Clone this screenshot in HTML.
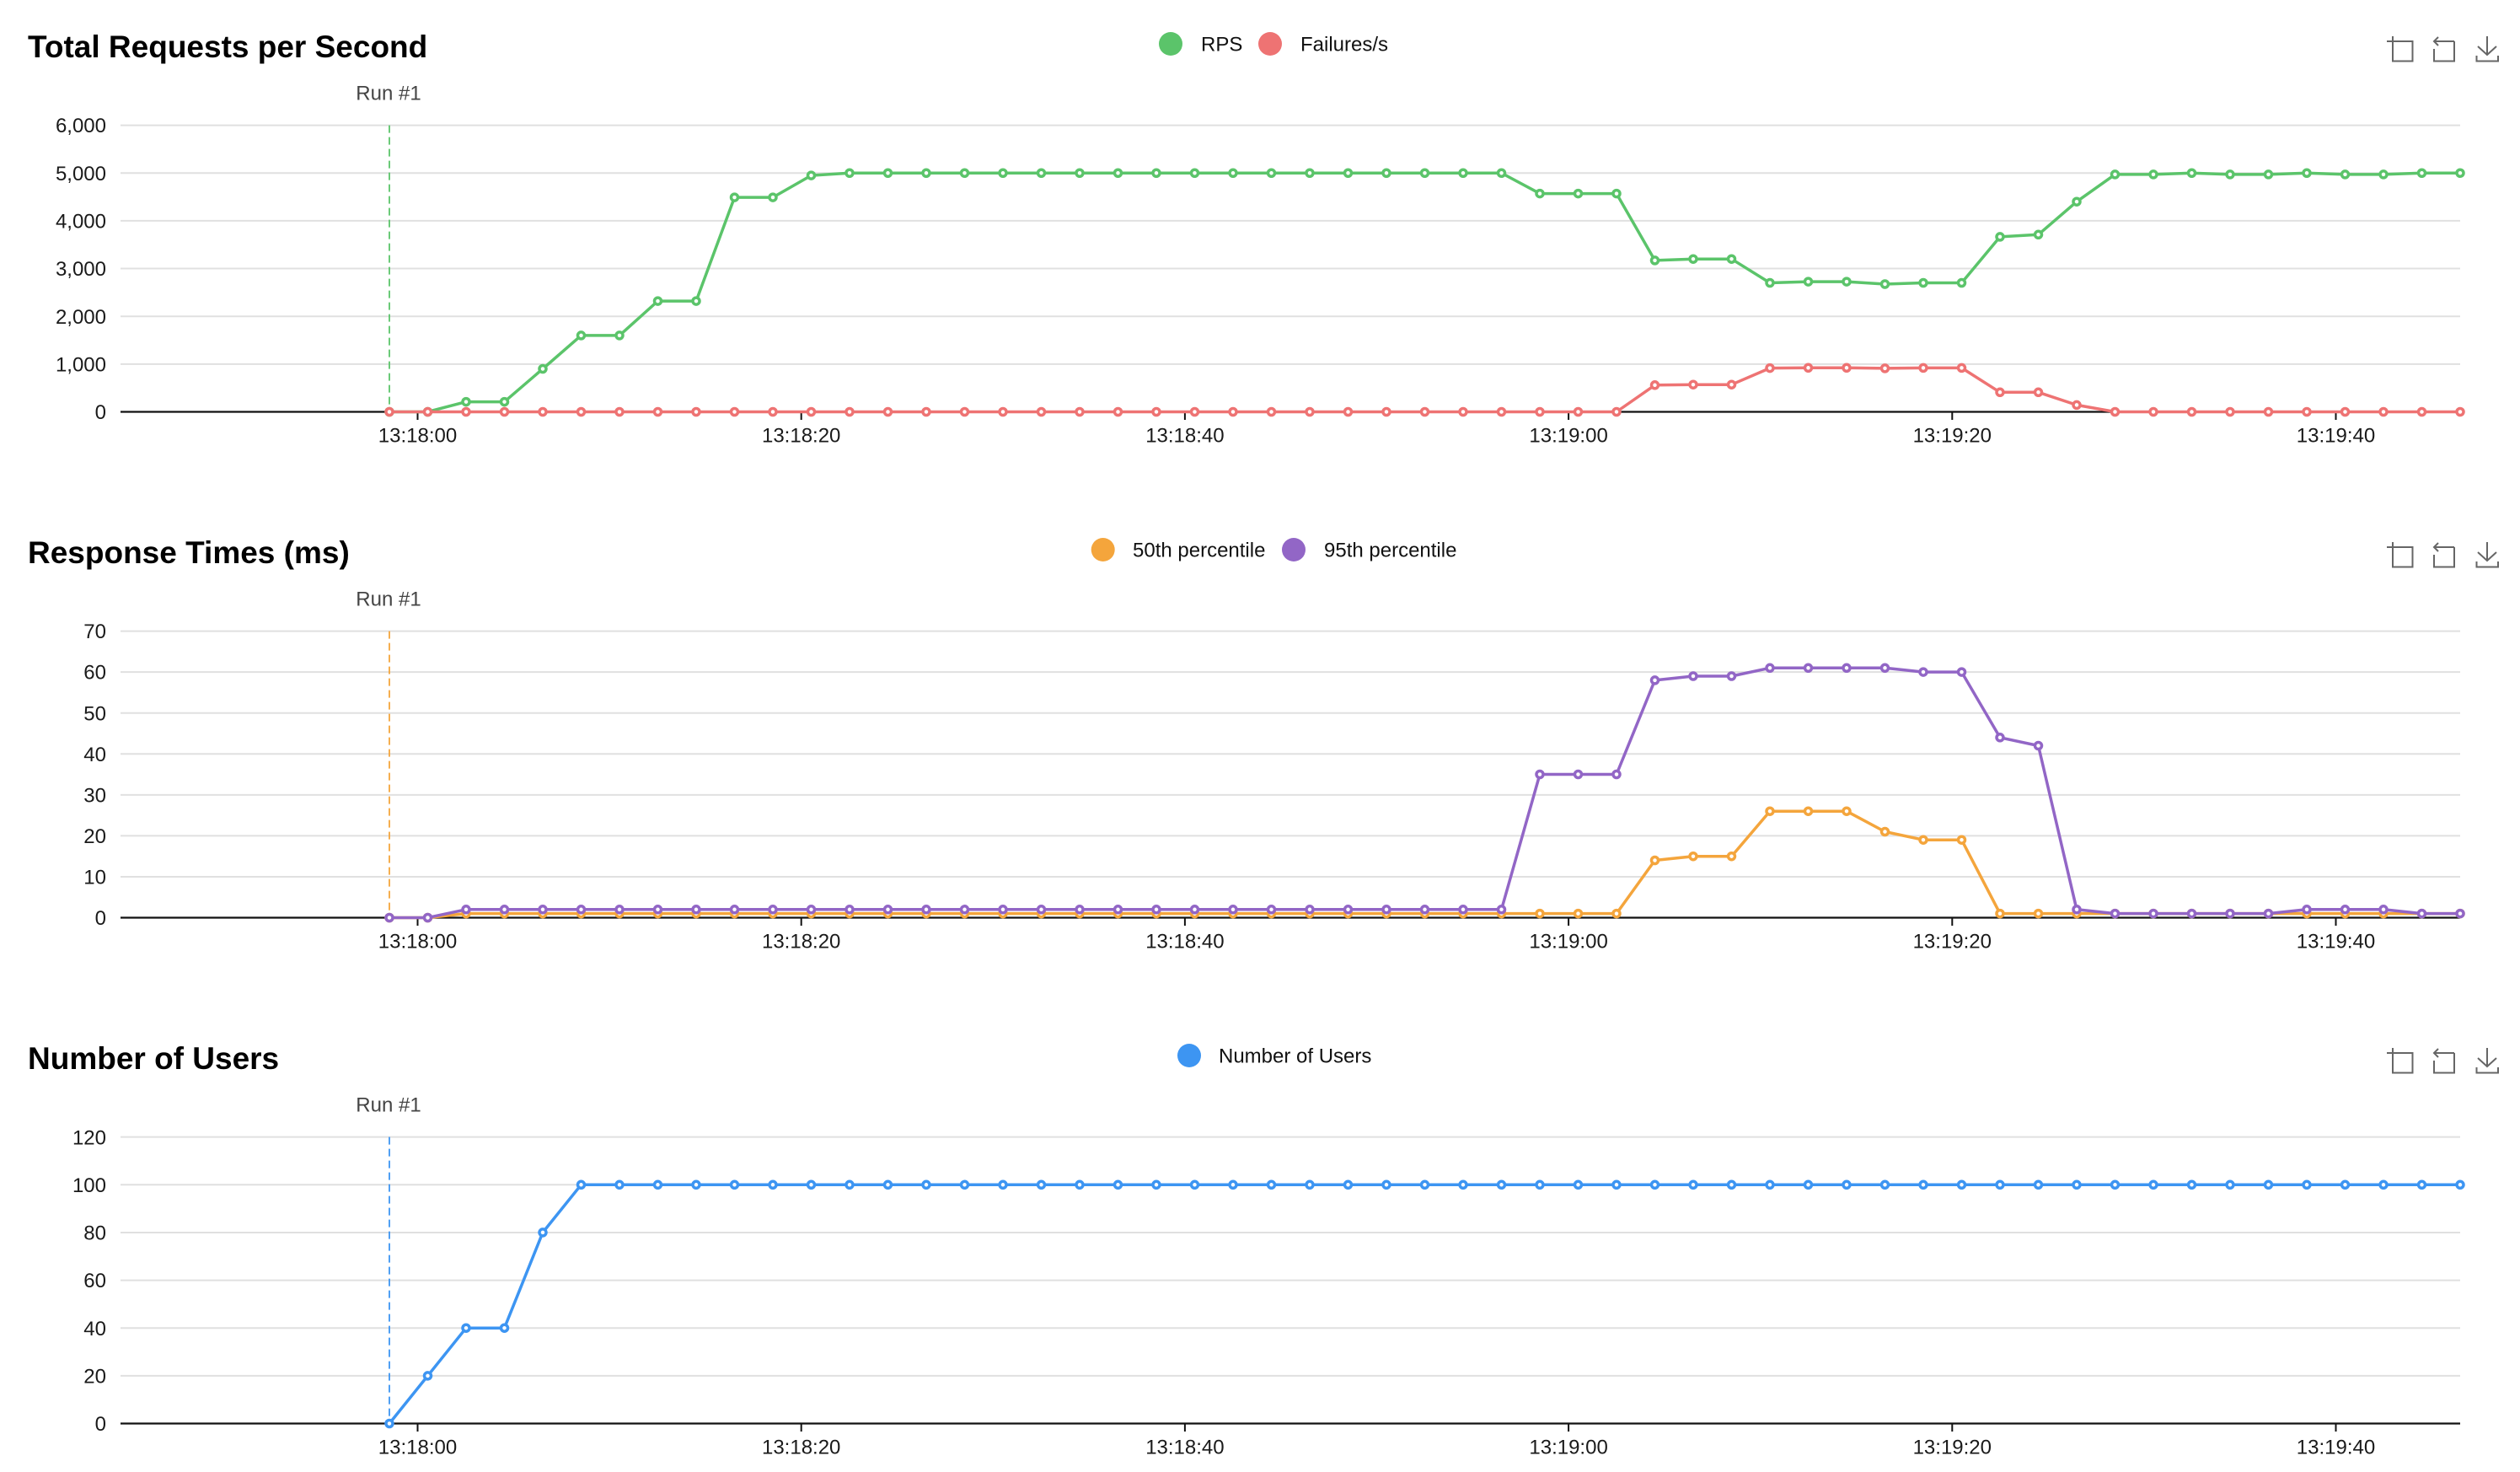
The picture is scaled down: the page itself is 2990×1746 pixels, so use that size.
<!DOCTYPE html>
<html>
<head>
<meta charset="utf-8">
<style>
html,body{margin:0;padding:0;background:#fff;}
svg{display:block;}
text{font-family:"Liberation Sans",Helvetica,Arial,sans-serif;}
.t{font-size:37px;font-weight:bold;fill:#000;}
.yl{font-size:24px;fill:#1a1a1a;text-anchor:end;}
.xl{font-size:24px;fill:#1a1a1a;text-anchor:middle;}
.run{font-size:24px;fill:#444;text-anchor:middle;}
.lg{font-size:24px;fill:#111;}
.grid line{stroke:#e0e0e0;stroke-width:2;}
.axis{stroke:#111;stroke-width:2.2;}
.tick{stroke:#111;stroke-width:2;}
.ico{fill:none;stroke:#666;stroke-width:2;}
</style>
</head>
<body>
<svg width="2990" height="1746" viewBox="0 0 2990 1746" xmlns="http://www.w3.org/2000/svg">
<defs>
<marker id="mg" markerWidth="16" markerHeight="16" refX="8" refY="8" markerUnits="userSpaceOnUse" overflow="visible"><circle cx="8" cy="8" r="4" fill="#fff" stroke="#5bc46a" stroke-width="3.5"/></marker>
<marker id="mr" markerWidth="16" markerHeight="16" refX="8" refY="8" markerUnits="userSpaceOnUse" overflow="visible"><circle cx="8" cy="8" r="4" fill="#fff" stroke="#ee7373" stroke-width="3.5"/></marker>
<marker id="mo" markerWidth="16" markerHeight="16" refX="8" refY="8" markerUnits="userSpaceOnUse" overflow="visible"><circle cx="8" cy="8" r="4" fill="#fff" stroke="#f4a53c" stroke-width="3.5"/></marker>
<marker id="mp" markerWidth="16" markerHeight="16" refX="8" refY="8" markerUnits="userSpaceOnUse" overflow="visible"><circle cx="8" cy="8" r="4" fill="#fff" stroke="#9266c6" stroke-width="3.5"/></marker>
<marker id="mb" markerWidth="16" markerHeight="16" refX="8" refY="8" markerUnits="userSpaceOnUse" overflow="visible"><circle cx="8" cy="8" r="4" fill="#fff" stroke="#3d95f2" stroke-width="3.5"/></marker>
</defs>
<rect x="0" y="0" width="2990" height="1746" fill="#fff"/>

<!-- ================= CHART 1 ================= -->
<text class="t" x="33" y="68">Total Requests per Second</text>
<circle cx="1389" cy="52" r="14" fill="#5bc46a"/>
<text class="lg" x="1425" y="60.5">RPS</text>
<circle cx="1507" cy="52" r="14" fill="#ee7373"/>
<text class="lg" x="1543" y="60.5">Failures/s</text>
<g>
<path class="ico" d="M2839,43 V72.5 H2862.5 V49 H2832"/>
<path class="ico" d="M2912,49 V72.5 H2888 V58 M2912,49 H2888.5 M2893,44 L2888,49 L2893,54"/>
<path class="ico" d="M2951,43 V65 M2940,55 L2951,65 L2962,55 M2938.5,66 V72.5 H2964 V66"/>
</g>
<g class="grid">
<line x1="143" x2="2919" y1="148.6" y2="148.6"/>
<line x1="143" x2="2919" y1="205.25" y2="205.25"/>
<line x1="143" x2="2919" y1="261.9" y2="261.9"/>
<line x1="143" x2="2919" y1="318.55" y2="318.55"/>
<line x1="143" x2="2919" y1="375.2" y2="375.2"/>
<line x1="143" x2="2919" y1="431.85" y2="431.85"/>
</g>
<g>
<text class="yl" x="126" y="157.2">6,000</text>
<text class="yl" x="126" y="213.9">5,000</text>
<text class="yl" x="126" y="270.5">4,000</text>
<text class="yl" x="126" y="327.2">3,000</text>
<text class="yl" x="126" y="383.8">2,000</text>
<text class="yl" x="126" y="440.5">1,000</text>
<text class="yl" x="126" y="497.1">0</text>
</g>
<line class="axis" x1="143" x2="2919" y1="488.5" y2="488.5"/>
<g class="tick">
<line x1="495.5" x2="495.5" y1="488.5" y2="498"/>
<line x1="950.7" x2="950.7" y1="488.5" y2="498"/>
<line x1="1405.9" x2="1405.9" y1="488.5" y2="498"/>
<line x1="1861.1" x2="1861.1" y1="488.5" y2="498"/>
<line x1="2316.3" x2="2316.3" y1="488.5" y2="498"/>
<line x1="2771.5" x2="2771.5" y1="488.5" y2="498"/>
</g>
<g>
<text class="xl" x="495.5" y="524.5">13:18:00</text>
<text class="xl" x="950.7" y="524.5">13:18:20</text>
<text class="xl" x="1405.9" y="524.5">13:18:40</text>
<text class="xl" x="1861.1" y="524.5">13:19:00</text>
<text class="xl" x="2316.3" y="524.5">13:19:20</text>
<text class="xl" x="2771.5" y="524.5">13:19:40</text>
</g>
<line x1="462" x2="462" y1="148.6" y2="488.5" stroke="#5bc46a" stroke-width="1.8" stroke-dasharray="9,5"/>
<text class="run" x="461" y="118.5">Run #1</text>
<polyline fill="none" stroke="#5bc46a" stroke-width="3.5" stroke-linejoin="round" marker-start="url(#mg)" marker-mid="url(#mg)" marker-end="url(#mg)" points="462,488.5 507.5,488.5 553,476.6 598.5,476.6 644,437.5 689.5,397.9 735,397.9 780.5,357.1 826,357.1 871.5,234.1 917,234.1 962.5,208.1 1008,205.25 1053.5,205.25 1099,205.25 1144.5,205.25 1190,205.25 1235.5,205.25 1281,205.25 1326.5,205.25 1372,205.25 1417.5,205.25 1463,205.25 1508.5,205.25 1554,205.25 1599.5,205.25 1645,205.25 1690.5,205.25 1736,205.25 1781.5,205.25 1827,229.6 1872.5,229.6 1918,229.6 1963.5,308.9 2009,307.2 2054.5,307.2 2100,335.5 2145.5,334.1 2191,334.1 2236.5,337 2282,335.5 2327.5,335.5 2373,280.9 2418.5,278.3 2464,239.2 2509.5,206.9 2555,206.9 2600.5,205.25 2646,206.9 2691.5,206.9 2737,205.25 2782.5,206.9 2828,206.9 2873.5,205.25 2919,205.25"/>
<polyline fill="none" stroke="#ee7373" stroke-width="3.5" stroke-linejoin="round" marker-start="url(#mr)" marker-mid="url(#mr)" marker-end="url(#mr)" points="462,488.5 507.5,488.5 553,488.5 598.5,488.5 644,488.5 689.5,488.5 735,488.5 780.5,488.5 826,488.5 871.5,488.5 917,488.5 962.5,488.5 1008,488.5 1053.5,488.5 1099,488.5 1144.5,488.5 1190,488.5 1235.5,488.5 1281,488.5 1326.5,488.5 1372,488.5 1417.5,488.5 1463,488.5 1508.5,488.5 1554,488.5 1599.5,488.5 1645,488.5 1690.5,488.5 1736,488.5 1781.5,488.5 1827,488.5 1872.5,488.5 1918,488.5 1963.5,456.8 2009,456.2 2054.5,456.2 2100,436.6 2145.5,436.3 2191,436.3 2236.5,436.9 2282,436.4 2327.5,436.4 2373,465.3 2418.5,465.3 2464,480.4 2509.5,488.5 2555,488.5 2600.5,488.5 2646,488.5 2691.5,488.5 2737,488.5 2782.5,488.5 2828,488.5 2873.5,488.5 2919,488.5"/>

<!-- ================= CHART 2 ================= -->
<text class="t" x="33" y="668">Response Times (ms)</text>
<circle cx="1308.7" cy="652" r="14" fill="#f4a53c"/>
<text class="lg" x="1344" y="660.5">50th percentile</text>
<circle cx="1535" cy="652" r="14" fill="#9266c6"/>
<text class="lg" x="1571" y="660.5">95th percentile</text>
<g transform="translate(0,600)">
<path class="ico" d="M2839,43 V72.5 H2862.5 V49 H2832"/>
<path class="ico" d="M2912,49 V72.5 H2888 V58 M2912,49 H2888.5 M2893,44 L2888,49 L2893,54"/>
<path class="ico" d="M2951,43 V65 M2940,55 L2951,65 L2962,55 M2938.5,66 V72.5 H2964 V66"/>
</g>
<g class="grid">
<line x1="143" x2="2919" y1="748.58" y2="748.58"/>
<line x1="143" x2="2919" y1="797.14" y2="797.14"/>
<line x1="143" x2="2919" y1="845.7" y2="845.7"/>
<line x1="143" x2="2919" y1="894.26" y2="894.26"/>
<line x1="143" x2="2919" y1="942.82" y2="942.82"/>
<line x1="143" x2="2919" y1="991.38" y2="991.38"/>
<line x1="143" x2="2919" y1="1039.94" y2="1039.94"/>
</g>
<g>
<text class="yl" x="126" y="757.2">70</text>
<text class="yl" x="126" y="805.7">60</text>
<text class="yl" x="126" y="854.3">50</text>
<text class="yl" x="126" y="902.9">40</text>
<text class="yl" x="126" y="951.4">30</text>
<text class="yl" x="126" y="1000">20</text>
<text class="yl" x="126" y="1048.5">10</text>
<text class="yl" x="126" y="1097.1">0</text>
</g>
<line class="axis" x1="143" x2="2919" y1="1088.5" y2="1088.5"/>
<g class="tick">
<line x1="495.5" x2="495.5" y1="1088.5" y2="1098"/>
<line x1="950.7" x2="950.7" y1="1088.5" y2="1098"/>
<line x1="1405.9" x2="1405.9" y1="1088.5" y2="1098"/>
<line x1="1861.1" x2="1861.1" y1="1088.5" y2="1098"/>
<line x1="2316.3" x2="2316.3" y1="1088.5" y2="1098"/>
<line x1="2771.5" x2="2771.5" y1="1088.5" y2="1098"/>
</g>
<g>
<text class="xl" x="495.5" y="1124.5">13:18:00</text>
<text class="xl" x="950.7" y="1124.5">13:18:20</text>
<text class="xl" x="1405.9" y="1124.5">13:18:40</text>
<text class="xl" x="1861.1" y="1124.5">13:19:00</text>
<text class="xl" x="2316.3" y="1124.5">13:19:20</text>
<text class="xl" x="2771.5" y="1124.5">13:19:40</text>
</g>
<line x1="462" x2="462" y1="748.6" y2="1088.5" stroke="#f4a53c" stroke-width="1.8" stroke-dasharray="9,5"/>
<text class="run" x="461" y="718.5">Run #1</text>
<polyline fill="none" stroke="#f4a53c" stroke-width="3.5" stroke-linejoin="round" marker-start="url(#mo)" marker-mid="url(#mo)" marker-end="url(#mo)" points="462,1088.5 507.5,1088.5 553,1083.6 598.5,1083.6 644,1083.6 689.5,1083.6 735,1083.6 780.5,1083.6 826,1083.6 871.5,1083.6 917,1083.6 962.5,1083.6 1008,1083.6 1053.5,1083.6 1099,1083.6 1144.5,1083.6 1190,1083.6 1235.5,1083.6 1281,1083.6 1326.5,1083.6 1372,1083.6 1417.5,1083.6 1463,1083.6 1508.5,1083.6 1554,1083.6 1599.5,1083.6 1645,1083.6 1690.5,1083.6 1736,1083.6 1781.5,1083.6 1827,1083.6 1872.5,1083.6 1918,1083.6 1963.5,1020.5 2009,1015.7 2054.5,1015.7 2100,962.2 2145.5,962.2 2191,962.2 2236.5,986.5 2282,996.2 2327.5,996.2 2373,1083.6 2418.5,1083.6 2464,1083.6 2509.5,1083.6 2555,1083.6 2600.5,1083.6 2646,1083.6 2691.5,1083.6 2737,1083.6 2782.5,1083.6 2828,1083.6 2873.5,1083.6 2919,1083.6"/>
<polyline fill="none" stroke="#9266c6" stroke-width="3.5" stroke-linejoin="round" marker-start="url(#mp)" marker-mid="url(#mp)" marker-end="url(#mp)" points="462,1088.5 507.5,1088.5 553,1078.8 598.5,1078.8 644,1078.8 689.5,1078.8 735,1078.8 780.5,1078.8 826,1078.8 871.5,1078.8 917,1078.8 962.5,1078.8 1008,1078.8 1053.5,1078.8 1099,1078.8 1144.5,1078.8 1190,1078.8 1235.5,1078.8 1281,1078.8 1326.5,1078.8 1372,1078.8 1417.5,1078.8 1463,1078.8 1508.5,1078.8 1554,1078.8 1599.5,1078.8 1645,1078.8 1690.5,1078.8 1736,1078.8 1781.5,1078.8 1827,918.5 1872.5,918.5 1918,918.5 1963.5,806.9 2009,802 2054.5,802 2100,792.3 2145.5,792.3 2191,792.3 2236.5,792.3 2282,797.1 2327.5,797.1 2373,874.8 2418.5,884.5 2464,1078.8 2509.5,1083.6 2555,1083.6 2600.5,1083.6 2646,1083.6 2691.5,1083.6 2737,1078.8 2782.5,1078.8 2828,1078.8 2873.5,1083.6 2919,1083.6"/>

<!-- ================= CHART 3 ================= -->
<text class="t" x="33" y="1268">Number of Users</text>
<circle cx="1411" cy="1252" r="14" fill="#3d95f2"/>
<text class="lg" x="1446" y="1260.5">Number of Users</text>
<g transform="translate(0,1200)">
<path class="ico" d="M2839,43 V72.5 H2862.5 V49 H2832"/>
<path class="ico" d="M2912,49 V72.5 H2888 V58 M2912,49 H2888.5 M2893,44 L2888,49 L2893,54"/>
<path class="ico" d="M2951,43 V65 M2940,55 L2951,65 L2962,55 M2938.5,66 V72.5 H2964 V66"/>
</g>
<g class="grid">
<line x1="143" x2="2919" y1="1348.66" y2="1348.66"/>
<line x1="143" x2="2919" y1="1405.3" y2="1405.3"/>
<line x1="143" x2="2919" y1="1461.94" y2="1461.94"/>
<line x1="143" x2="2919" y1="1518.58" y2="1518.58"/>
<line x1="143" x2="2919" y1="1575.22" y2="1575.22"/>
<line x1="143" x2="2919" y1="1631.86" y2="1631.86"/>
</g>
<g>
<text class="yl" x="126" y="1357.3">120</text>
<text class="yl" x="126" y="1413.9">100</text>
<text class="yl" x="126" y="1470.5">80</text>
<text class="yl" x="126" y="1527.2">60</text>
<text class="yl" x="126" y="1583.8">40</text>
<text class="yl" x="126" y="1640.5">20</text>
<text class="yl" x="126" y="1697.1">0</text>
</g>
<line class="axis" x1="143" x2="2919" y1="1688.5" y2="1688.5"/>
<g class="tick">
<line x1="495.5" x2="495.5" y1="1688.5" y2="1698"/>
<line x1="950.7" x2="950.7" y1="1688.5" y2="1698"/>
<line x1="1405.9" x2="1405.9" y1="1688.5" y2="1698"/>
<line x1="1861.1" x2="1861.1" y1="1688.5" y2="1698"/>
<line x1="2316.3" x2="2316.3" y1="1688.5" y2="1698"/>
<line x1="2771.5" x2="2771.5" y1="1688.5" y2="1698"/>
</g>
<g>
<text class="xl" x="495.5" y="1724.5">13:18:00</text>
<text class="xl" x="950.7" y="1724.5">13:18:20</text>
<text class="xl" x="1405.9" y="1724.5">13:18:40</text>
<text class="xl" x="1861.1" y="1724.5">13:19:00</text>
<text class="xl" x="2316.3" y="1724.5">13:19:20</text>
<text class="xl" x="2771.5" y="1724.5">13:19:40</text>
</g>
<line x1="462" x2="462" y1="1348.6" y2="1688.5" stroke="#3d95f2" stroke-width="1.8" stroke-dasharray="9,5"/>
<text class="run" x="461" y="1318.5">Run #1</text>
<polyline fill="none" stroke="#3d95f2" stroke-width="3.5" stroke-linejoin="round" marker-start="url(#mb)" marker-mid="url(#mb)" marker-end="url(#mb)" points="462,1688.5 507.5,1631.9 553,1575.2 598.5,1575.2 644,1461.9 689.5,1405.3 735,1405.3 780.5,1405.3 826,1405.3 871.5,1405.3 917,1405.3 962.5,1405.3 1008,1405.3 1053.5,1405.3 1099,1405.3 1144.5,1405.3 1190,1405.3 1235.5,1405.3 1281,1405.3 1326.5,1405.3 1372,1405.3 1417.5,1405.3 1463,1405.3 1508.5,1405.3 1554,1405.3 1599.5,1405.3 1645,1405.3 1690.5,1405.3 1736,1405.3 1781.5,1405.3 1827,1405.3 1872.5,1405.3 1918,1405.3 1963.5,1405.3 2009,1405.3 2054.5,1405.3 2100,1405.3 2145.5,1405.3 2191,1405.3 2236.5,1405.3 2282,1405.3 2327.5,1405.3 2373,1405.3 2418.5,1405.3 2464,1405.3 2509.5,1405.3 2555,1405.3 2600.5,1405.3 2646,1405.3 2691.5,1405.3 2737,1405.3 2782.5,1405.3 2828,1405.3 2873.5,1405.3 2919,1405.3"/>
</svg>
</body>
</html>
